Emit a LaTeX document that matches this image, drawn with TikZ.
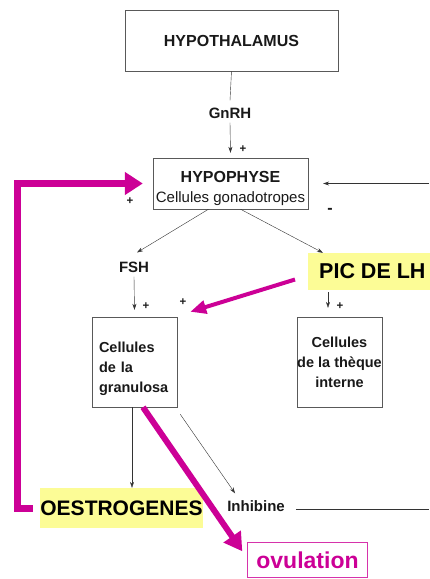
\documentclass[tikz,border=0pt]{standalone}
\usepackage{fontspec}
\setmainfont{Liberation Sans}
\usetikzlibrary{arrows.meta}
\definecolor{lhpink}{RGB}{204,0,150}
\definecolor{hilite}{RGB}{252,252,150}

\begin{document}
\begin{tikzpicture}
	[x=1pt, y=-1pt,%
	gland/.style  ={rectangle,	draw=black!65,	thin,	inner sep=0pt,	text=black!90},%
	cellbox/.style={rectangle,	draw=black!65,	thin,	inner xsep=0pt,	minimum width=85pt,	minimum height=90pt,	text=black!90,	font=\fontsize{14.5}{20}\selectfont\bfseries},%
	hormone/.style={inner sep=1pt,	text=black!90,	font=\fontsize{15}{16}\selectfont\bfseries},%
	peakbox/.style={rectangle,	fill=hilite,	inner sep=0pt,	text=black},%
	sign/.style   ={inner sep=0pt,	text=black!90,	font=\fontsize{11.5}{12}\selectfont\bfseries},%
	stim/.style   ={-{Stealth[length=6pt,width=4pt]},	black!80,	thin},%
	push/.style   ={lhpink,	line width=4pt,	-{Triangle[length=16pt,width=13pt]}},%
	feedback/.style={lhpink,	line width=7pt,	-{Triangle[length=18pt,width=22pt]}},%
	]
	\useasboundingbox (0,0) rectangle (429,579);

	% glands
	\node (hypoth) at (231.5,40.5) [gland, minimum width=213pt, minimum height=61pt, font=\fontsize{16}{18}\selectfont\bfseries] {HYPOTHALAMUS};
	\node (hypoph) at (230.5,183.5) [gland, minimum width=155pt, minimum height=51pt, align=center, font=\fontsize{15}{20}\selectfont]
		{\rule{0pt}{21pt}{\fontsize{16}{20}\selectfont\bfseries HYPOPHYSE}\\Cellules gonadotropes};

	% hormones
	\node (gnrh)  at (230,113) [hormone] {GnRH};
	\node (fsh)   at (134,267) [hormone] {FSH};
	\node (inhib) at (256,506) [hormone] {Inhibine};
	\node (pic)   at (308,271.5) [peakbox, anchor=west, inner xsep=11pt, minimum height=37pt, font=\fontsize{21.5}{24}\selectfont\bfseries] {PIC DE LH};
	\node (oestro) at (121.5,508) [peakbox, minimum width=163pt, minimum height=40pt, font=\fontsize{21}{24}\selectfont\bfseries] {OESTROGENES};

	% ovary cells
	\node (gran)   at (134.5,362) [cellbox, align=left, text width=71pt] {\rule{0pt}{24pt}Cellules\\de la\\granulosa};
	\node (theque) at (339.5,362) [cellbox, align=center] {Cellules\\de la thèque\\interne};

	\node (ovul) at (307.5,560) [rectangle, draw=lhpink!80, thin, minimum width=120pt, minimum height=35pt, text=lhpink, font=\fontsize{23}{24}\selectfont\bfseries] {ovulation};

	% signs
	\foreach \n/\x/\y in {gnrh/243/149, fb/130/201, fsh/146/306, lh/183/302, theque/340/306}
		\node (plus\n) at (\x,\y) [sign] {+};
	\node (minus) at (330,211) [sign, font=\fontsize{16}{16}\selectfont\bfseries] {-};

	\coordinate (lhfb)   at (429,183.5);
	\coordinate (inhout) at (429,509);

	% interconnections
	\draw [black!80, thin] (hypoth.south) -- ([yshift=6pt]gnrh.north);
	\draw [stim] ([yshift=-3pt]gnrh.south) -- ([yshift=5pt]hypoph.north);
	\draw [stim] (lhfb) -- ([xshift=15pt]hypoph.east);
	\draw [stim] ([xshift=-22pt]hypoph.south) -- ([xshift=3pt,yshift=8pt]fsh.north);
	\draw [stim] ([xshift=10pt]hypoph.south) -- ([xshift=15pt]pic.north west);
	\draw [stim] ([yshift=-3pt]fsh.south) -- ([yshift=7pt]gran.north);
	\draw [stim] ([xshift=20pt,yshift=-2pt]pic.south west) -- ([xshift=-11.5pt,yshift=9pt]theque.north);
	\draw [stim] ([xshift=-2.5pt]gran.south) -- ([xshift=10.5pt]oestro.north);
	\draw [stim] ([xshift=3pt,yshift=-7pt]gran.south east) -- ([xshift=9pt,yshift=6pt]inhib.north west);
	\draw [black!80, thin] ([xshift=10pt,yshift=-3pt]inhib.east) -- (inhout);

	\draw [push] ([xshift=-13pt,yshift=-8pt]pic.west) -- ([xshift=13pt,yshift=5pt]gran.north east);
	\draw [push, line width=6pt, -{Triangle[length=18pt,width=20pt]}] ([xshift=8.5pt]gran.south) -- ([xshift=-5pt,yshift=-9pt]ovul.north west);
	\draw [feedback] ([xshift=-7pt]oestro.west) -- ++(-15,0) |- ([xshift=-10pt]hypoph.west);

\end{tikzpicture}
\end{document}
